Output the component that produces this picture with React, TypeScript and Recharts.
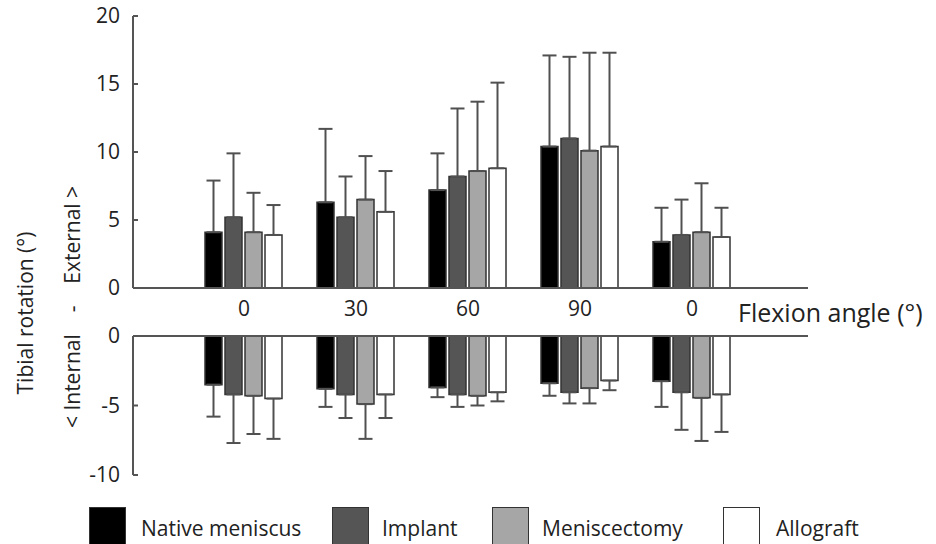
import { Bar, BarChart, ErrorBar, XAxis, YAxis } from "recharts";

const angles = ["0", "30", "60", "90", "0"];
const seriesNames = ["Native meniscus", "Implant", "Meniscectomy", "Allograft"];
const seriesKeys = ["native", "implant", "menisc", "allo"];

// external rotation (upper panel), mean and SD
const nativeExt = [4.1, 6.3, 7.2, 10.4, 3.4];
const implantExt = [5.2, 5.2, 8.2, 11.0, 3.9];
const meniscExt = [4.1, 6.5, 8.6, 10.1, 4.1];
const alloExt = [3.9, 5.6, 8.8, 10.4, 3.75];
const nativeExtSd = [3.8, 5.4, 2.7, 6.7, 2.5];
const implantExtSd = [4.7, 3.0, 5.0, 6.0, 2.6];
const meniscExtSd = [2.9, 3.2, 5.1, 7.2, 3.6];
const alloExtSd = [2.2, 3.0, 6.3, 6.9, 2.15];

// internal rotation (lower panel), mean and SD
const nativeInt = [-3.5, -3.8, -3.7, -3.4, -3.25];
const implantInt = [-4.2, -4.2, -4.2, -4.05, -4.05];
const meniscInt = [-4.3, -4.9, -4.3, -3.75, -4.45];
const alloInt = [-4.5, -4.2, -4.05, -3.2, -4.2];
const nativeIntSd = [2.3, 1.3, 0.7, 0.9, 1.85];
const implantIntSd = [3.5, 1.7, 0.9, 0.8, 2.7];
const meniscIntSd = [2.75, 2.5, 0.7, 1.1, 3.1];
const alloIntSd = [2.9, 1.7, 0.65, 0.7, 2.7];

const extTicks = [0, 5, 10, 15, 20];
const intTicks = [-10, -5, 0];

const fills = ["#000000", "#555555", "#a6a6a6", "#ffffff"];
const font = "'Open Sans', sans-serif";
const axisColor = "#555";

const extMeans = [nativeExt, implantExt, meniscExt, alloExt];
const extSds = [nativeExtSd, implantExtSd, meniscExtSd, alloExtSd];
const intMeans = [nativeInt, implantInt, meniscInt, alloInt];
const intSds = [nativeIntSd, implantIntSd, meniscIntSd, alloIntSd];

const upperData = angles.map((angle, i) => {
  const row: Record<string, unknown> = { angle };
  seriesKeys.forEach((k, s) => {
    row[k] = extMeans[s][i];
    row[k + "Err"] = [0, extSds[s][i]];
  });
  return row;
});

const lowerData = angles.map((angle, i) => {
  const row: Record<string, unknown> = { angle };
  seriesKeys.forEach((k, s) => {
    row[k] = intMeans[s][i];
    row[k + "Err"] = [intSds[s][i], 0];
  });
  return row;
});

const tickStyle = { fill: "#222", fontSize: 21, fontFamily: font };

function bars() {
  return seriesKeys.map((k, s) => (
    <Bar key={k} dataKey={k} fill={fills[s]} stroke="#333" strokeWidth={1.5} isAnimationActive={false}>
      <ErrorBar dataKey={k + "Err"} width={7} stroke="#505050" strokeWidth={2} direction="y" />
    </Bar>
  ));
}

export default function App() {
  return (
    <div style={{ position: "absolute", left: 0, top: 0, width: 936, height: 544, background: "#fff", fontFamily: font, overflow: "hidden" }}>
      <div style={{ position: "absolute", left: 0, top: 0 }}>
        <BarChart width={936} height={336} data={upperData} margin={{ top: 16, right: 128, bottom: 0, left: 0 }} barCategoryGap={17} barGap={3}>
          <XAxis
            dataKey="angle"
            allowDuplicatedCategory
            height={48}
            padding={{ left: 55, right: 60 }}
            tickLine={false}
            tickSize={0}
            tickMargin={13}
            axisLine={{ stroke: axisColor, strokeWidth: 2 }}
            tick={tickStyle}
            interval={0}
          />
          <YAxis
            width={133}
            domain={[0, 20]}
            ticks={extTicks}
            interval={0}
            tickSize={-5}
            tickMargin={18}
            axisLine={{ stroke: axisColor, strokeWidth: 2 }}
            tickLine={{ stroke: axisColor, strokeWidth: 2 }}
            tick={tickStyle}
          />
          {bars()}
        </BarChart>
      </div>
      <div style={{ position: "absolute", left: 0, top: 320 }}>
        <BarChart width={936} height={170} data={lowerData} margin={{ top: 15, right: 128, bottom: 15, left: 0 }} barCategoryGap={17} barGap={3}>
          <XAxis
            dataKey="angle"
            orientation="top"
            allowDuplicatedCategory
            height={1}
            padding={{ left: 55, right: 60 }}
            tick={false}
            tickLine={false}
            axisLine={{ stroke: axisColor, strokeWidth: 2 }}
          />
          <YAxis
            width={133}
            domain={[-10, 0]}
            ticks={intTicks}
            interval={0}
            tickSize={-5}
            tickMargin={18}
            axisLine={{ stroke: axisColor, strokeWidth: 2 }}
            tickLine={{ stroke: axisColor, strokeWidth: 2 }}
            tick={tickStyle}
          />
          {bars()}
        </BarChart>
      </div>
      <svg style={{ position: "absolute", left: 0, top: 0 }} width={120} height={544}>
        <text x={25} y={313} transform="rotate(-90 25 313)" textAnchor="middle" dominantBaseline="central" fontSize={21} fill="#222" fontFamily={font}>
          Tibial rotation (°)
        </text>
        <text x={72} y={307} transform="rotate(-90 72 307)" textAnchor="middle" dominantBaseline="central" fontSize={21} fill="#222" fontFamily={font} style={{ whiteSpace: "pre" }}>
          {"< Internal    -    External >"}
        </text>
      </svg>
      <div style={{ position: "absolute", left: 738, top: 295, fontSize: 25, color: "#222", lineHeight: "34px", whiteSpace: "nowrap" }}>
        Flexion angle (°)
      </div>
      {seriesNames.map((name, s) => {
        const boxLefts = [89, 332, 492, 723];
        const textLefts = [141, 382, 542, 776];
        return (
          <div key={name}>
            <div style={{ position: "absolute", left: boxLefts[s], top: 507, width: 37, height: 40, background: fills[s], border: "1.5px solid #333", boxSizing: "border-box" }} />
            <div style={{ position: "absolute", left: textLefts[s], top: 514, fontSize: 21, color: "#222", lineHeight: "28px", whiteSpace: "nowrap" }}>{name}</div>
          </div>
        );
      })}
    </div>
  );
}
